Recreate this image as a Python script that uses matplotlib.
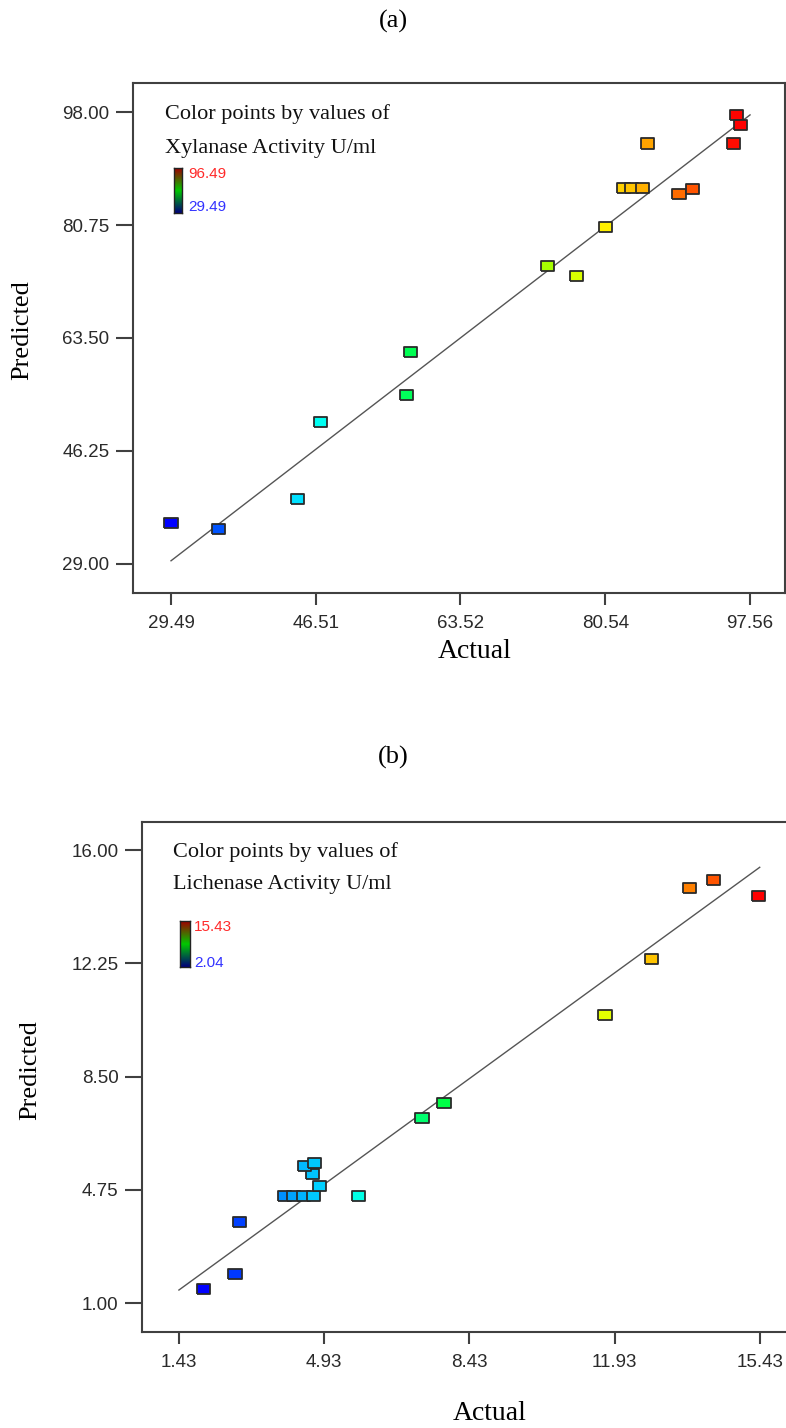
import numpy as np
import matplotlib
matplotlib.use("Agg")
import matplotlib.pyplot as plt
from matplotlib.colors import LinearSegmentedColormap

# (a) Xylanase activity: actual vs predicted
xyl_actual = [29.49, 35.05, 44.34, 47.09, 57.2, 57.6, 73.78, 77.2, 80.6,
              82.66, 83.65, 84.94, 85.5, 89.2, 90.8, 95.6, 96.0, 96.4]
xyl_pred = [35.3, 34.3, 38.9, 50.7, 54.8, 61.4, 74.5, 72.9, 80.4,
            86.35, 86.35, 86.35, 93.2, 85.5, 86.3, 93.2, 97.6, 96.0]
xyl_xticks = [29.49, 46.51, 63.52, 80.54, 97.56]
xyl_yticks = [29.00, 46.25, 63.50, 80.75, 98.00]
xyl_range = [29.49, 96.49]

# (b) Lichenase activity: actual vs predicted
lic_actual = [2.02, 2.78, 2.90, 3.97, 4.20, 4.43, 4.67, 4.81, 4.65, 4.45,
              4.69, 5.75, 7.29, 7.82, 11.70, 12.83, 13.74, 14.32, 15.41]
lic_pred = [1.45, 1.97, 3.67, 4.54, 4.54, 4.54, 4.54, 4.87, 5.26, 5.55,
            5.63, 4.54, 7.14, 7.61, 10.54, 12.38, 14.75, 15.0, 14.48]
lic_xticks = [1.43, 4.93, 8.43, 11.93, 15.43]
lic_yticks = [1.00, 4.75, 8.50, 12.25, 16.00]
lic_range = [2.04, 15.43]

W, H = 786, 1428
cmap = LinearSegmentedColormap.from_list(
    "de", [(0, "#0000ff"), (0.25, "#00ffff"), (0.5, "#00ff00"),
           (0.75, "#ffff00"), (1.0, "#ff0000")])
bar_cmap = LinearSegmentedColormap.from_list("bar", ["#00007a", "#00c800", "#a00000"])

# rectangle marker, a bit wider than tall
rect = [(-1.3, -1), (1.3, -1), (1.3, 1), (-1.3, 1), (-1.3, -1)]

serif = "Liberation Serif"
sans = "Liberation Sans"
spine_col = "#404040"


def fx(px):
    return px / W


def fy(py):
    return 1 - py / H


fig = plt.figure(figsize=(W / 100, H / 100), dpi=100)


def panel(box, actual, pred, xticks, yticks, xlim, ylim, rng, name, leg, bar, barlab):
    left, top, right, bottom = box
    ax = fig.add_axes([fx(left), fy(bottom), fx(right) - fx(left), fy(top) - fy(bottom)])
    ax.plot([xticks[0], xticks[-1]], [xticks[0], xticks[-1]], color="#555555", lw=1.0)
    ax.scatter(actual, pred, c=actual, cmap=cmap, vmin=rng[0], vmax=rng[1],
               marker=rect, s=90, edgecolors="#2a2a2a", linewidths=1.3, zorder=3)
    ax.set_xlim(xlim)
    ax.set_ylim(ylim)
    ax.set_xticks(xticks)
    ax.set_yticks(yticks)
    ax.set_xticklabels([f"{v:.2f}" for v in xticks], fontfamily=sans, fontsize=13.5, color="#2a2a2a")
    ax.set_yticklabels([f"{v:.2f}" for v in yticks], fontfamily=sans, fontsize=13.5, color="#2a2a2a")
    ax.tick_params(axis="y", length=12, width=1.5, color=spine_col, pad=5)
    ax.tick_params(axis="x", length=8.5, width=1.5, color=spine_col, pad=7)
    for s in ax.spines.values():
        s.set_color(spine_col)
        s.set_linewidth(1.5)

    # color legend
    fig.text(fx(leg[0]), fy(leg[1]), "Color points by values of", fontfamily=serif,
             fontsize=16, va="center", ha="left", color="#111111")
    fig.text(fx(leg[0]), fy(leg[2]), name, fontfamily=serif,
             fontsize=16, va="center", ha="left", color="#111111")
    bx0, by0, bx1, by1 = bar
    cax = fig.add_axes([fx(bx0), fy(by1), fx(bx1) - fx(bx0), fy(by0) - fy(by1)])
    cax.imshow(np.linspace(1, 0, 100).reshape(-1, 1), aspect="auto", cmap=bar_cmap)
    cax.set_xticks([])
    cax.set_yticks([])
    for s in cax.spines.values():
        s.set_color("#222222")
        s.set_linewidth(1)
    fig.text(fx(barlab[0]), fy(barlab[1]), f"{rng[1]:.2f}", fontfamily=sans,
             fontsize=11, color="#ff2a2a", va="center", ha="left")
    fig.text(fx(barlab[0]), fy(barlab[2]), f"{rng[0]:.2f}", fontfamily=sans,
             fontsize=11, color="#3333ff", va="center", ha="left")
    return ax


panel((133, 83, 785, 593), xyl_actual, xyl_pred, xyl_xticks, xyl_yticks,
      (25.02, 101.67), (24.57, 102.43), xyl_range, "Xylanase Activity U/ml",
      (165, 114, 148), (174, 168, 182, 213), (188, 174, 207))
panel((142, 822, 790, 1332), lic_actual, lic_pred, lic_xticks, lic_yticks,
      (0.54, 16.16), (0.04, 16.93), lic_range, "Lichenase Activity U/ml",
      (173, 852, 885), (180, 921, 190, 967), (194, 927, 963))

for lab, y in [("(a)", 21), ("(b)", 757)]:
    fig.text(fx(393), fy(y), lab, fontfamily=serif, fontsize=19, ha="center", va="center")
fig.text(fx(22), fy(330), "Predicted", fontfamily=serif, fontsize=19, rotation=90,
         ha="center", va="center")
fig.text(fx(30), fy(1070), "Predicted", fontfamily=serif, fontsize=19, rotation=90,
         ha="center", va="center")
fig.text(fx(475), fy(652), "Actual", fontfamily=serif, fontsize=20, ha="center", va="center")
fig.text(fx(490), fy(1413), "Actual", fontfamily=serif, fontsize=20, ha="center", va="center")

fig.savefig("out.png", dpi=100, facecolor="white")
